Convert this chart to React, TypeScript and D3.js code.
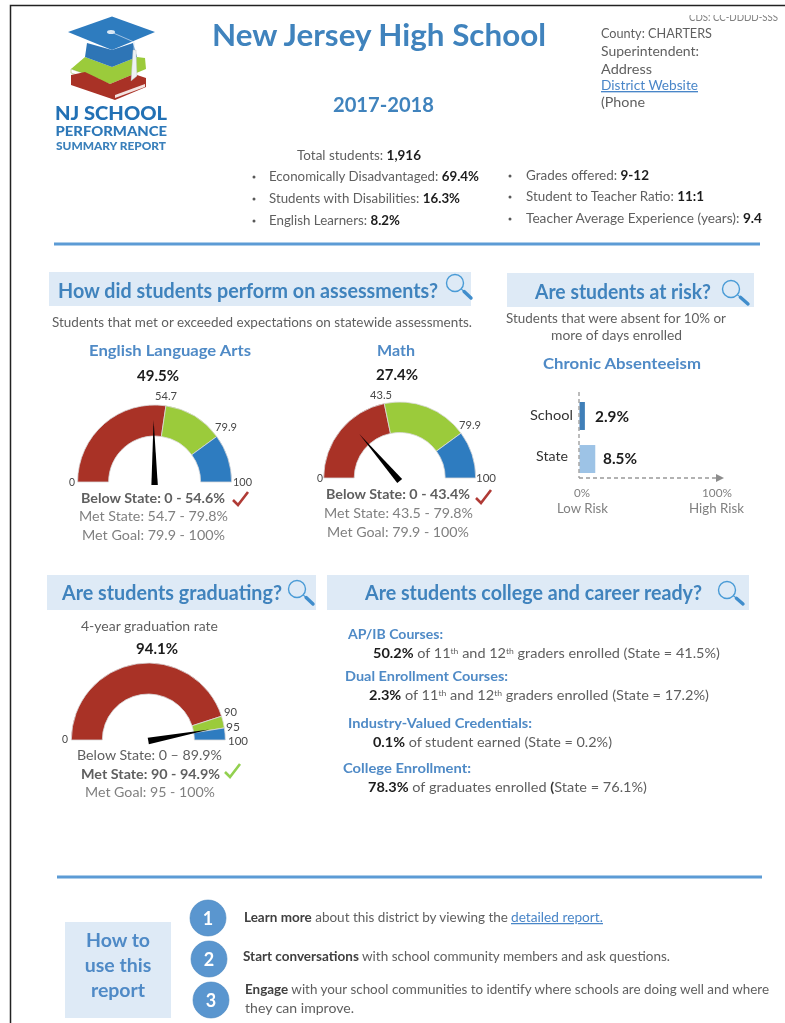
import React from "react";
import * as d3 from "d3";

const schoolTitle = "New Jersey High School";
const schoolYear = "2017-2018";
const contactLines = ["County: CHARTERS", "Superintendent:", "Address", "District Website", "(Phone"];
const statsLeft = [
  ["Economically Disadvantaged: ", "69.4%"],
  ["Students with Disabilities: ", "16.3%"],
  ["English Learners: ", "8.2%"],
];
const statsRight = [
  ["Grades offered: ", "9-12"],
  ["Student to Teacher Ratio: ", "11:1"],
  ["Teacher Average Experience (years): ", "9.4"],
];
const elaBands = [0, 54.7, 79.9, 100];
const mathBands = [0, 43.5, 79.9, 100];
const gradBands = [0, 90, 95, 100];
const elaValue = 49.5;
const mathValue = 27.4;
const gradValue = 94.1;
const bandColors = ["#a93026", "#9bcb3b", "#2f7bc0"];
const riskCategories = ["School", "State"];
const riskValues = [2.9, 8.5];
const riskColors = ["#3f7fb8", "#9dc3e6"];

const FONT = "Lato, Carlito, Calibri, sans-serif";
const GREY = "#5f5f5f";
const LIGHT = "#808080";
const DARK = "#1c1c1c";
const TICK = "#484848";
const BLUE = "#3f83bd";
const SUB = "#4f8ac6";
const PANEL = "#deeaf6";

type TP = { x: number; y: number; w?: number; s?: number; b?: boolean; f?: string; children: any; w8?: number; u?: boolean };
function T({ x, y, w, s = 13, b = false, f = GREY, children, w8, u }: TP) {
  return (
    <text x={x} y={y} fontSize={s} fontWeight={w8 ?? (b ? 700 : 400)} fill={f} fontFamily={FONT}
      textDecoration={u ? "underline" : undefined}
      {...(w ? { textLength: w, lengthAdjust: "spacingAndGlyphs" } : {})}>
      {children}
    </text>
  );
}
const B = ({ children, f = DARK }: any) => <tspan fontWeight={700} fill={f}>{children}</tspan>;

function Lens({ cx, cy, ex, ey }: { cx: number; cy: number; ex: number; ey: number }) {
  const a = Math.atan2(ey - cy, ex - cx);
  const R = 8.5;
  return (
    <g fill="none" stroke="#4a9bd6">
      <circle cx={cx} cy={cy} r={R} strokeWidth={1.4} />
      <line x1={cx + R * Math.cos(a)} y1={cy + R * Math.sin(a)} x2={ex} y2={ey} strokeWidth={1.2} />
      <line x1={cx + (R + 4) * Math.cos(a)} y1={cy + (R + 4) * Math.sin(a)} x2={ex} y2={ey} strokeWidth={3.4} strokeLinecap="round" stroke="#3f8dcc" />
    </g>
  );
}
function Check({ x, y, c }: { x: number; y: number; c: string }) {
  return <path d={`M${x},${y + 8} L${x + 5},${y + 13} L${x + 15},${y}`} fill="none" stroke={c} strokeWidth={2.6} />;
}

function Gauge({ bands, value, cx, cy, R, r, nl, ny }: { bands: number[]; value: number; cx: number; cy: number; R: number; r: number; nl: number; ny: number }) {
  const angle = d3.scaleLinear().domain([0, 100]).range([-Math.PI / 2, Math.PI / 2]);
  const arc = d3.arc<any>().innerRadius(r).outerRadius(R);
  const segs = d3.pairs(bands);
  const t = angle(value);
  const dx = Math.sin(t), dy = -Math.cos(t);
  const px = -dy, py = dx;
  const line = d3.line();
  const bx = cx, by = cy + ny;
  const needle = line([
    [bx + px * 3.2, by + py * 3.2],
    [bx + dx * nl, by + dy * nl],
    [bx - px * 3.2, by - py * 3.2],
  ]) + "Z";
  return (
    <g>
      <g transform={`translate(${cx},${cy})`}>
        {segs.map(([a, b], i) => (
          <path key={i} d={arc({ startAngle: angle(a), endAngle: angle(b) }) as string} fill={bandColors[i]} stroke="#d9d9d9" strokeWidth={0.8} />
        ))}
      </g>
      <path d={needle} fill="#000" />
    </g>
  );
}

function RiskChart() {
  const x = d3.scaleLinear().domain([0, 100]).range([579.5, 765]);
  const y = d3.scaleBand().domain(riskCategories).range([402, 473]).paddingInner(0.35);
  return (
    <g>
      {riskCategories.map((c, i) => (
        <rect key={c} x={x(0)} y={y(c)} width={x(riskValues[i]) - x(0)} height={y.bandwidth()} fill={riskColors[i]} />
      ))}
      <line x1={579} y1={392} x2={579} y2={478} stroke="#999" strokeWidth={1.3} strokeDasharray="4 3" />
      <line x1={579} y1={478} x2={718} y2={478} stroke="#999" strokeWidth={1.3} strokeDasharray="4 3" />
      <path d="M716,474 L724,478 L716,482 Z" fill="#8c8c8c" />
    </g>
  );
}

function Logo() {
  return (
    <g>
      <path d="M71,69 L85,57 L112,67 L137,57 L145,58 L146,69 L110,84 Z" fill="#9bcb3b" />
      <path d="M71,69 L100,79 L100,82 L71,73 Z" fill="#fff" stroke="#7aa52f" strokeWidth={0.4} />
      <path d="M71,75 L85,72 L110,84 L134,74 L146,78 L146,87 L115,100 L71,85 Z" fill="#a93026" />
      <path d="M115,95 L145,84 L145,87 L115,98 Z" fill="#f3e3e0" />
      <path d="M87,43 L85,57 L112,67 L137,57 L133,43 L112,50 Z" fill="#2e75b6" />
      <path d="M68,32 L112,16.5 L155,32 L112,50 Z" fill="#2e7bbf" />
      <ellipse cx={111} cy={32} rx={4} ry={2} fill="#dbe9f5" />
      <path d="M111,32 L134,42 L134,50" fill="none" stroke="#cfe0f0" strokeWidth={0.7} />
      <path d="M133,50 L136,50 L137,76 L131,81 Z" fill="#eef2f5" stroke="#b5b5b5" strokeWidth={0.4} />
      <T x={55} y={120} w={112} s={19.5} w8={900} f="#2371b5">NJ SCHOOL</T>
      <T x={55.5} y={136} w={111.5} s={14} w8={900} f="#2d78b8">PERFORMANCE</T>
      <T x={56} y={150} w={110} s={12} w8={900} f="#3a80bb">SUMMARY REPORT</T>
    </g>
  );
}

export default function App() {
  const bullet = (x: number, y: number) => <circle cx={x} cy={y} r={1.5} fill="#595959" />;
  return (
    <svg width={785} height={1023} viewBox="0 0 785 1023" style={{ position: "absolute", left: 0, top: 0, background: "#fff" }}>
      <defs>
        <clipPath id="cds"><rect x={680} y={15} width={105} height={20} /></clipPath>
        <filter id="soft" x="-2%" y="-2%" width="104%" height="104%"><feGaussianBlur stdDeviation="0.4" /></filter>
      </defs>
      <g filter="url(#soft)">
      <path d="M10.5,1023 L10.5,5.5 L785,5.5" fill="none" stroke="#222" strokeWidth={1.5} />
      <Logo />
      <T x={212} y={46} w={334} s={30} b f={BLUE}>{schoolTitle}</T>
      <T x={333} y={112} w={101} s={21} b f={BLUE}>{schoolYear}</T>

      <g clipPath="url(#cds)"><T x={689} y={21} w={89} s={11.5} f={LIGHT}>CDS: CC-DDDD-SSS</T></g>
      <T x={601} y={38} w={111} s={13.5}>{contactLines[0]}</T>
      <T x={601} y={56} w={98} s={13.5}>{contactLines[1]}</T>
      <T x={601} y={73.5} w={51} s={13.5}>{contactLines[2]}</T>
      <T x={601} y={90} w={97} s={13.5} f="#4a86c8" u>{contactLines[3]}</T>
      <T x={601} y={107} w={44} s={13.5}>{contactLines[4]}</T>

      <T x={297} y={160} w={124} s={12.5}>Total students: <B>1,916</B></T>
      {statsLeft.map((d, i) => {
        const ys = [181, 203, 225], ws = [210, 191, 131];
        return (
          <g key={d[0]}>{bullet(254, ys[i] - 4)}<T x={269} y={ys[i]} w={ws[i]} s={12.5}>{d[0]}<B>{d[1]}</B></T></g>
        );
      })}
      {statsRight.map((d, i) => {
        const ys = [180, 201, 223], ws = [123, 178, 236];
        return (
          <g key={d[0]}>{bullet(510, ys[i] - 4)}<T x={526} y={ys[i]} w={ws[i]} s={12.5}>{d[0]}<B>{d[1]}</B></T></g>
        );
      })}
      <line x1={54} y1={244} x2={760} y2={244} stroke="#5b9bd5" strokeWidth={3} />

      {/* Assessments */}
      <rect x={49} y={272} width={422} height={34} fill={PANEL} />
      <T x={58} y={298} w={380} s={20} b f={BLUE}>How did students perform on assessments?</T>
      <Lens cx={455} cy={283} ex={471} ey={298} />
      <T x={52} y={326.5} w={420} s={12.5}>Students that met or exceeded expectations on statewide assessments.</T>
      <T x={89} y={356} w={162} s={15} b f={SUB}>English  Language  Arts</T>
      <T x={137} y={381} w={42} s={15} b f={DARK}>{elaValue}%</T>
      <T x={377} y={356} w={38} s={15} b f={SUB}>Math</T>
      <T x={376} y={380} w={42} s={15} b f={DARK}>{mathValue}%</T>

      <Gauge bands={elaBands} value={elaValue} cx={154.6} cy={482} R={77} r={46} nl={65} ny={3} />
      <T x={155} y={400} w={22} s={11} f={TICK}>{elaBands[1]}</T>
      <T x={215} y={431} w={22} s={11} f={TICK}>{elaBands[2]}</T>
      <T x={69} y={486} w={6} s={11} f={TICK}>{elaBands[0]}</T>
      <T x={233} y={486} w={19} s={11} f={TICK}>{elaBands[3]}</T>
      <T x={81} y={503} w={144} s={13} b>Below State: 0 - 54.6%</T>
      <Check x={233} y={492} c="#b03a36" />
      <T x={79} y={521} w={149} s={13} f={LIGHT}>Met State:  54.7 - 79.8%</T>
      <T x={82} y={540} w={143} s={13} f={LIGHT}>Met Goal: 79.9 - 100%</T>

      <Gauge bands={mathBands} value={mathValue} cx={399.7} cy={478} R={76} r={45.5} nl={62} ny={3} />
      <T x={370} y={399} w={22} s={11} f={TICK}>{mathBands[1]}</T>
      <T x={459} y={429} w={22} s={11} f={TICK}>{mathBands[2]}</T>
      <T x={317} y={482} w={6} s={11} f={TICK}>{mathBands[0]}</T>
      <T x={476} y={482} w={20} s={11} f={TICK}>{mathBands[3]}</T>
      <T x={326} y={499} w={144} s={13} b>Below State: 0 - 43.4%</T>
      <Check x={476} y={490} c="#b03a36" />
      <T x={324} y={518} w={149} s={13} f={LIGHT}>Met State:  43.5 - 79.8%</T>
      <T x={327} y={537} w={142} s={13} f={LIGHT}>Met Goal: 79.9 - 100%</T>

      {/* Risk */}
      <rect x={507} y={273} width={247} height={34} fill={PANEL} />
      <T x={535} y={299} w={176} s={20} b f={BLUE}>Are students at risk?</T>
      <Lens cx={731} cy={289} ex={748} ey={304} />
      <T x={506} y={323} w={220} s={13}>Students that were absent for 10% or</T>
      <T x={551} y={340} w={131} s={13}>more of days enrolled</T>
      <T x={543} y={369} w={158} s={15} b f={SUB}>Chronic  Absenteeism</T>
      <RiskChart />
      <T x={530} y={420} w={43} s={13} f="#333">{riskCategories[0]}</T>
      <T x={536} y={461} w={32} s={13} f="#333">{riskCategories[1]}</T>
      <T x={595} y={422} w={34} s={15} b f={DARK}>{riskValues[0]}%</T>
      <T x={603} y={464} w={34} s={15} b f={DARK}>{riskValues[1]}%</T>
      <T x={574} y={497} w={16} s={12} f={LIGHT}>0%</T>
      <T x={702} y={497} w={30} s={12} f={LIGHT}>100%</T>
      <T x={557} y={513} w={51} s={13} f={LIGHT}>Low Risk</T>
      <T x={689} y={513} w={55} s={13} f={LIGHT}>High Risk</T>

      {/* Graduation */}
      <rect x={47} y={575} width={269} height={35} fill={PANEL} />
      <T x={62} y={600} w={220} s={20} b f={BLUE}>Are students graduating?</T>
      <Lens cx={297} cy={589} ex={313} ey={604} />
      <T x={81} y={631} w={137} s={13}>4-year graduation rate</T>
      <T x={136} y={654} w={42} s={15} b f={DARK}>{gradValue}%</T>
      <Gauge bands={gradBands} value={gradValue} cx={148.3} cy={740} R={77} r={46} nl={62} ny={1} />
      <T x={62} y={743} w={6} s={11} f={TICK}>{gradBands[0]}</T>
      <T x={224} y={716} w={13} s={11} f={TICK}>{gradBands[1]}</T>
      <T x={226} y={731} w={14} s={11} f={TICK}>{gradBands[2]}</T>
      <T x={228} y={745} w={20} s={11} f={TICK}>{gradBands[3]}</T>
      <T x={77} y={760} w={145} s={13} f={GREY}>Below State: 0 – 89.9%</T>
      <T x={81} y={779} w={139} s={13} b>Met State: 90 - 94.9%</T>
      <Check x={225} y={764} c="#92d050" />
      <T x={85} y={797} w={130} s={13} f={LIGHT}>Met Goal: 95 - 100%</T>

      {/* College */}
      <rect x={327} y={575} width={422} height={35} fill={PANEL} />
      <T x={365} y={600} w={337} s={20} b f={BLUE}>Are students college and career ready?</T>
      <Lens cx={727} cy={590} ex={743} ey={604} />
      <T x={348} y={639} w={95} s={13} b f={SUB}>AP/IB  Courses:</T>
      <T x={373} y={658} w={347} s={13.5}><B>50.2%</B> of 11<tspan dy={-4} fontSize={8}>th</tspan><tspan dy={4}> and 12</tspan><tspan dy={-4} fontSize={8}>th</tspan><tspan dy={4}> graders enrolled (State = 41.5%)</tspan></T>
      <T x={345} y={681} w={163} s={13} b f={SUB}>Dual  Enrollment  Courses:</T>
      <T x={369} y={700} w={340} s={13.5}><B>2.3%</B> of 11<tspan dy={-4} fontSize={8}>th</tspan><tspan dy={4}> and 12</tspan><tspan dy={-4} fontSize={8}>th</tspan><tspan dy={4}> graders enrolled (State = 17.2%)</tspan></T>
      <T x={348} y={728} w={184} s={13} b f={SUB}>Industry-Valued  Credentials:</T>
      <T x={373} y={747} w={239} s={13.5}><B>0.1%</B> of student earned (State = 0.2%)</T>
      <T x={343} y={773} w={128} s={13} b f={SUB}>College  Enrollment:</T>
      <T x={368} y={792} w={279} s={13.5}><B>78.3%</B> of graduates enrolled <B f="#333">(</B>State = 76.1%)</T>

      <line x1={57} y1={877} x2={762} y2={877} stroke="#5b9bd5" strokeWidth={3} />

      {/* How to */}
      <rect x={65} y={922} width={106} height={96} fill={PANEL} />
      <g textAnchor="middle">
        <T x={118} y={947} s={19.5} b f={SUB}>How to</T>
        <T x={118} y={972} s={19.5} b f={SUB}>use this</T>
        <T x={118} y={997} s={19.5} b f={SUB}>report</T>
      </g>
      {[[208, 918, "1"], [209, 959, "2"], [211, 1000, "3"]].map(([cx, cy, n]) => (
        <g key={n as string}>
          <circle cx={cx as number} cy={cy as number} r={18} fill="#5a96cf" stroke="#4a86bf" strokeWidth={0.6} />
          <g textAnchor="middle"><T x={cx as number} y={(cy as number) + 6.5} s={18} b f="#fff">{n}</T></g>
        </g>
      ))}
      <T x={244} y={922} w={264} s={12.5}><B f="#404040">Learn more</B>  about this district by viewing the</T>
      <T x={511} y={922} w={92} s={12.5} f="#4a86c8" u>detailed report.</T>
      <T x={243} y={961} w={427} s={12.5}><B f="#404040">Start conversations</B>  with school community members and ask questions.</T>
      <T x={245} y={994} w={524} s={12.5}><B f="#404040">Engage</B> with your school communities to identify where schools are doing well and where</T>
      <T x={245} y={1013} w={109} s={12.5}>they can improve.</T>
      </g>
    </svg>
  );
}
